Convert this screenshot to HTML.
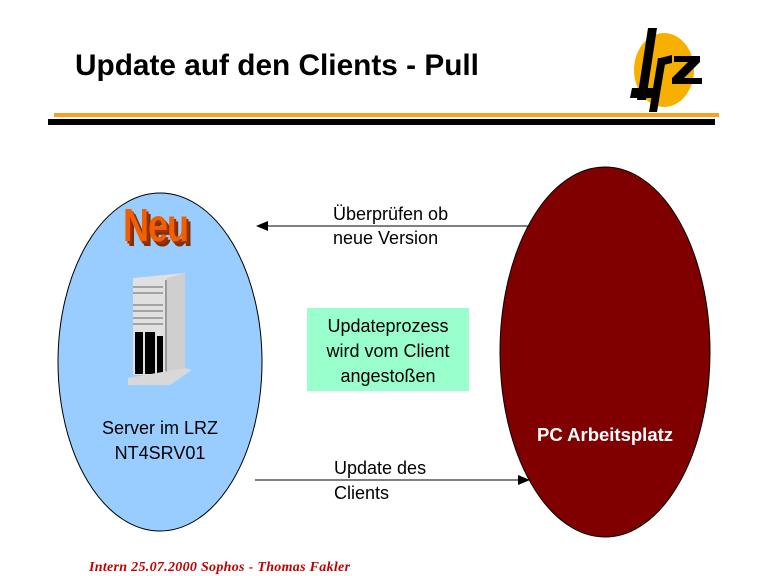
<!DOCTYPE html>
<html><head><meta charset="utf-8"><style>
body{margin:0;width:768px;height:576px;background:#fff;position:relative;overflow:hidden;font-family:"Liberation Sans",sans-serif}
.t{position:absolute;white-space:nowrap}
</style></head><body>
<div class="t" style="left:75px;top:49px;font-size:29.8px;font-weight:bold;color:#000">Update auf den Clients - Pull</div>
<svg width="768" height="576" style="position:absolute;left:0;top:0">
<ellipse cx="664" cy="70" rx="30" ry="37" fill="#f8b000"/>
<polygon points="648,28 657,28 646,100 637,100" fill="#000"/>
<polygon points="632,88 655,88 653,98 630,98" fill="#000"/>
<polygon points="658,58 666,58 657,112 649,112" fill="#000"/>
<polygon points="660,58 672,55 672,63 659,66" fill="#000"/>
<polygon points="674,56 700,56 700,62 684,78 702,78 702,84 672,84 672,78 688,62 674,62" fill="#000"/>
<rect x="54" y="113" width="665" height="4" fill="#f8a020"/>
<rect x="48" y="119" width="667" height="6" fill="#000"/>
<ellipse cx="160" cy="362" rx="102" ry="169" fill="#99ccff" stroke="#000" stroke-width="1"/>
<ellipse cx="605" cy="352" rx="105" ry="185" fill="#800000" stroke="#000" stroke-width="1"/>
<line x1="530" y1="226" x2="266" y2="226" stroke="#000"/>
<polygon points="256,226 268,221 268,231" fill="#000"/>
<line x1="255" y1="480" x2="520" y2="480" stroke="#000"/>
<polygon points="530,480 518,475 518,485" fill="#000"/>
<rect x="307" y="308" width="162" height="83" fill="#99ffcc"/>
<polygon points="133,278 185,273 185,375 133,375" fill="#e0e0e0"/>
<polygon points="167,278 185,273 185,375 167,378" fill="#cfcfcf"/>
<line x1="166" y1="280" x2="166" y2="378" stroke="#555"/>
<g stroke="#666" stroke-width="1">
<line x1="133" y1="287" x2="163" y2="287"/><line x1="133" y1="293" x2="163" y2="293"/>
<line x1="133" y1="305" x2="163" y2="305"/><line x1="133" y1="311" x2="163" y2="311"/>
<line x1="133" y1="318" x2="163" y2="318"/><line x1="133" y1="324" x2="163" y2="324"/>
</g>
<rect x="135" y="332" width="8" height="42" fill="#000"/>
<rect x="145" y="332" width="10" height="42" fill="#000"/>
<rect x="157" y="336" width="6" height="38" fill="#000"/>
<polygon points="128,385 170,385 192,370 185,368 128,378" fill="#d8d8d8"/>
</svg>
<div class="t" style="left:123px;top:198px;font-size:36px;font-weight:bold;color:#f06000;letter-spacing:-1px;text-shadow:2px 2px 0 #a03000,4px 4px 0 #803000;transform:scaleY(1.3);transform-origin:top left">Neu</div>
<div class="t" style="left:333px;top:202px;font-size:18px;line-height:24px;color:#000">Überprüfen ob<br>neue Version</div>
<div class="t" style="left:307px;top:314px;width:162px;text-align:center;font-size:18px;line-height:25px;color:#000">Updateprozess<br>wird vom Client<br>angestoßen</div>
<div class="t" style="left:58px;top:416px;width:204px;text-align:center;font-size:18px;line-height:25px;color:#000">Server im LRZ<br>NT4SRV01</div>
<div class="t" style="left:334px;top:456px;font-size:18px;line-height:25px;color:#000">Update des<br>Clients</div>
<div class="t" style="left:500px;top:424px;width:210px;text-align:center;font-size:18.5px;font-weight:bold;color:#fff">PC Arbeitsplatz</div>
<div class="t" style="left:89px;top:560px;font-family:'Liberation Serif',serif;font-size:14px;font-style:italic;font-weight:bold;color:#c00000;letter-spacing:0.3px">Intern 25.07.2000 Sophos - Thomas Fakler</div>
</body></html>
